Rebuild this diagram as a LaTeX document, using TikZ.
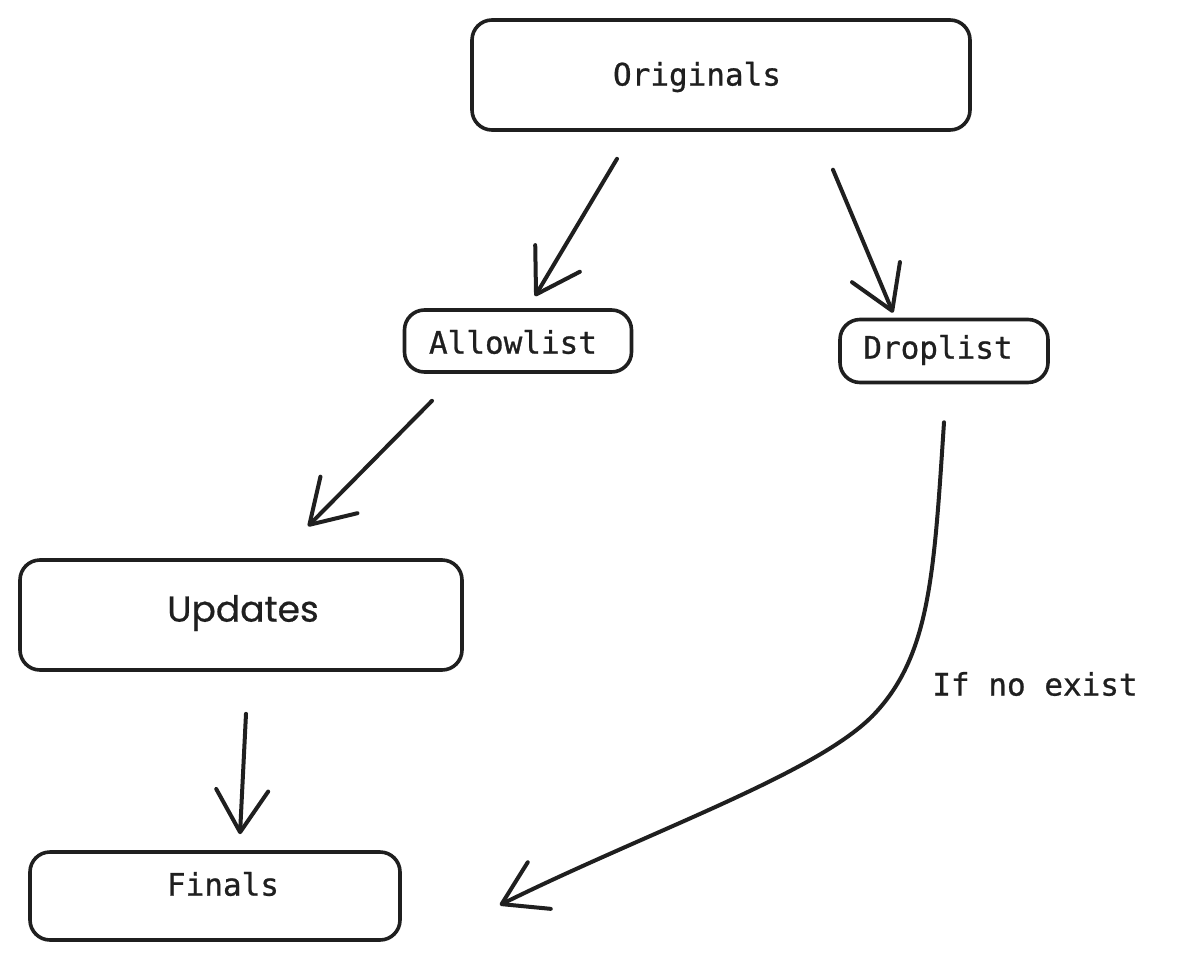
\documentclass[tikz,border=0pt]{standalone}
\usepackage{fontspec}
\newfontfamily\codefont[FakeBold=0.8]{DejaVu Sans Mono}
\newfontfamily\handfont[FakeBold=0.6]{Poppins}
\usetikzlibrary{arrows.meta,calc}
\begin{document}
\begin{tikzpicture}[x=0.5pt,y=-0.5pt,
  box/.style={draw=black!88,line width=1.8pt,rounded corners=10pt,inner sep=0pt},
  lbl/.style={font=\codefont\fontsize{15.5pt}{18pt}\selectfont,text=black!88,inner sep=0pt},
  conn/.style={draw=black!88,line width=2pt,line cap=round,line join=round,
    -{Straight Barb[length=21pt,width=26pt,line width=2pt,round]}}]
\useasboundingbox (0,0) rectangle (1177,958);
% boxes
\node[box,minimum width=249pt,minimum height=55pt] (orig) at (721,75) {};
\node[box,minimum width=113.5pt,minimum height=31pt] (allow) at (518,341) {};
\node[box,minimum width=104pt,minimum height=31.5pt] (drop) at (944,351) {};
\node[box,minimum width=221pt,minimum height=55pt] (upd) at (241,615) {};
\node[box,minimum width=185pt,minimum height=44pt] (fin) at (215,896) {};
% texts
\node[lbl] (torig) at (697,77) {Originals};
\node[lbl] (tallow) at (513,342) {Allowlist};
\node[lbl] (tdrop) at (938,350) {Droplist};
\node[font=\handfont\fontsize{18pt}{20pt}\selectfont,text=black!88,inner sep=0pt] (tupd) at (243,613) {Updates};
\node[lbl] (tfin) at (223,884) {Finals};
\node[lbl] (tif) at (1035,684) {If no exist};
% connectors
\draw[conn] ($(orig.south)+(-104,27)$) -- ($(allow.north)+(17,-12)$);
\draw[conn] ($(orig.south)+(112,38)$) -- ($(drop.north)+(-51,-5)$);
\draw[conn] ($(allow.south)+(-86,27)$) -- ($(upd.north)+(67,-32)$);
\draw[conn] ($(upd.south)+(5,42)$) -- ($(fin.north)+(25,-16)$);
\draw[conn] ($(drop.south)+(0,38)$) .. controls ($(drop.south)+(-10,190)$) and ($(drop.south)+(-14,270)$) .. ($(drop.south)+(-69,329)$)
  .. controls ($(drop.south)+(-124,388)$) and ($(fin.east)+(250,-66)$) .. ($(fin.east)+(98,9)$);
\end{tikzpicture}
\end{document}
